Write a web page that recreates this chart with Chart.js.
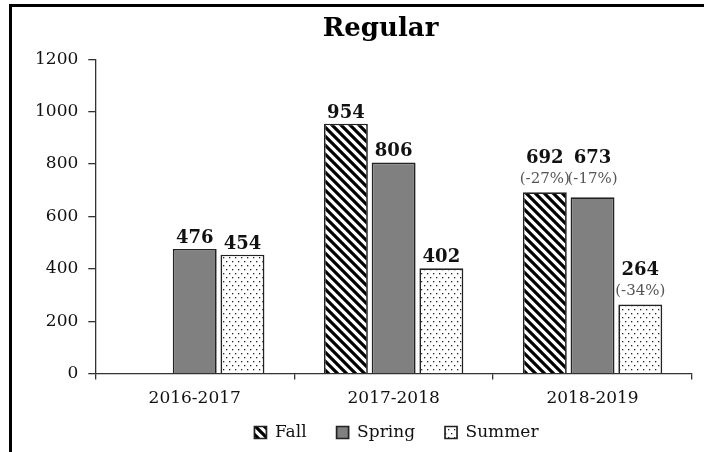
<!DOCTYPE html>
<html>
<head>
<meta charset="utf-8">
<script src="https://cdn.jsdelivr.net/npm/chart.js@4.4.0/dist/chart.umd.min.js"></script>
<style>
    html, body { margin: 0; padding: 0; background: #fff; }
    #wrap { position: relative; width: 704px; height: 452px; overflow: hidden; }
    #frame { position: absolute; left: 9px; top: 4px; width: 720px; height: 470px; border: 3px solid #000; box-sizing: border-box; pointer-events: none; }
    canvas { position: absolute; left: 0; top: 0; }
</style>
</head>
<body>
<div id="wrap">
    <canvas id="chart" width="704" height="452"></canvas>
    <div id="frame"></div>
</div>
<script>
const years = ['2016-2017', '2017-2018', '2018-2019'];
const fall = [null, 954, 692];
const spring = [476, 806, 673];
const summer = [454, 402, 264];
const fallPct = [null, null, '(-27%)'];
const springPct = [null, null, '(-17%)'];
const summerPct = [null, null, '(-34%)'];
const yTicks = [0, 200, 400, 600, 800, 1000, 1200];

const serif = '"DejaVu Serif", "Liberation Serif", serif';

// hatch pattern for Fall
function hatchPattern() {
    const c = document.createElement('canvas');
    c.width = 9; c.height = 9;
    const g = c.getContext('2d');
    g.fillStyle = '#fff';
    g.fillRect(0, 0, 9, 9);
    g.strokeStyle = '#000';
    g.lineWidth = 3.2;
    g.beginPath();
    g.moveTo(-2, -2); g.lineTo(11, 11);
    g.moveTo(-2, 7); g.lineTo(2, 11);
    g.moveTo(7, -2); g.lineTo(11, 2);
    g.stroke();
    return g.createPattern(c, 'repeat');
}

// dotted pattern for Summer
function dotPattern() {
    const c = document.createElement('canvas');
    c.width = 6; c.height = 8;
    const g = c.getContext('2d');
    g.fillStyle = '#fff';
    g.fillRect(0, 0, 6, 8);
    g.fillStyle = '#222';
    g.fillRect(1, 1, 1.3, 1.3);
    g.fillRect(4, 5, 1.3, 1.3);
    return g.createPattern(c, 'repeat');
}

const pctLabels = [fallPct, springPct, summerPct];

const barLabels = {
    id: 'barLabels',
    afterDatasetsDraw(chart) {
        const ctx = chart.ctx;
        ctx.save();
        ctx.textAlign = 'center';
        ctx.textBaseline = 'alphabetic';
        chart.data.datasets.forEach((ds, di) => {
            const meta = chart.getDatasetMeta(di);
            meta.data.forEach((bar, i) => {
                const v = ds.data[i];
                if (v === null) return;
                const pct = pctLabels[di][i];
                let y = bar.y - 6;
                if (pct) {
                    // Fall and Spring labels sit side by side on one line
                    let top = bar.y;
                    if (di < 2) {
                        [0, 1].forEach(k => {
                            const b = chart.getDatasetMeta(k).data[i];
                            if (chart.data.datasets[k].data[i] !== null) top = Math.min(top, b.y);
                        });
                    }
                    y = top - 9;
                    ctx.font = '15px ' + serif;
                    ctx.fillStyle = '#555';
                    ctx.fillText(pct, bar.x, y);
                    y -= 20;
                }
                ctx.font = 'bold 18px ' + serif;
                ctx.fillStyle = '#111';
                ctx.fillText(String(v), bar.x, y);
            });
        });
        ctx.restore();
    }
};

// move title and legend a bit to the right, pull legend up
const nudge = {
    id: 'nudge',
    afterLayout(chart) {
        const t = chart.titleBlock;
        t.left += 22; t.right += 22;
        const lg = chart.legend;
        lg.left += 38; lg.right += 38;
        lg.top -= 24; lg.bottom -= 24;
    }
};

const common = {
    borderColor: '#222',
    borderWidth: 1.7,
    borderSkipped: 'bottom',
    categoryPercentage: 0.72,
    barPercentage: 0.92
};

new Chart(document.getElementById('chart'), {
    type: 'bar',
    data: {
        labels: years,
        datasets: [
            Object.assign({ label: 'Fall', data: fall, backgroundColor: hatchPattern() }, common),
            Object.assign({ label: 'Spring', data: spring, backgroundColor: '#808080' }, common),
            Object.assign({ label: 'Summer', data: summer, backgroundColor: dotPattern() }, common)
        ]
    },
    options: {
        responsive: false,
        animation: false,
        layout: { padding: { left: 25, right: 12, top: 8, bottom: -23 } },
        plugins: {
            title: {
                display: true,
                text: 'Regular',
                color: '#000',
                font: { family: serif, size: 26, weight: 'bold' },
                padding: { top: 6, bottom: 14 }
            },
            legend: {
                position: 'bottom',
                labels: {
                    color: '#111',
                    font: { family: serif, size: 17 },
                    boxWidth: 12,
                    boxHeight: 12,
                    padding: 30
                }
            },
            tooltip: { enabled: false }
        },
        scales: {
            x: {
                grid: { display: true, drawOnChartArea: false, offset: true, tickLength: 6, color: '#333', lineWidth: 1.3 },
                border: { display: true, color: '#333', width: 1.3 },
                ticks: { color: '#111', font: { family: serif, size: 17 }, padding: 9 }
            },
            y: {
                min: 0,
                max: 1200,
                afterBuildTicks(axis) { axis.ticks = yTicks.map(v => ({ value: v })); },
                grid: { display: true, drawOnChartArea: false, tickLength: 7, color: '#333', lineWidth: 1.3 },
                border: { display: true, color: '#333', width: 1.3 },
                ticks: { color: '#111', font: { family: serif, size: 17 }, padding: 10, callback: v => String(v) }
            }
        }
    },
    plugins: [barLabels, nudge]
});
</script>
</body>
</html>
